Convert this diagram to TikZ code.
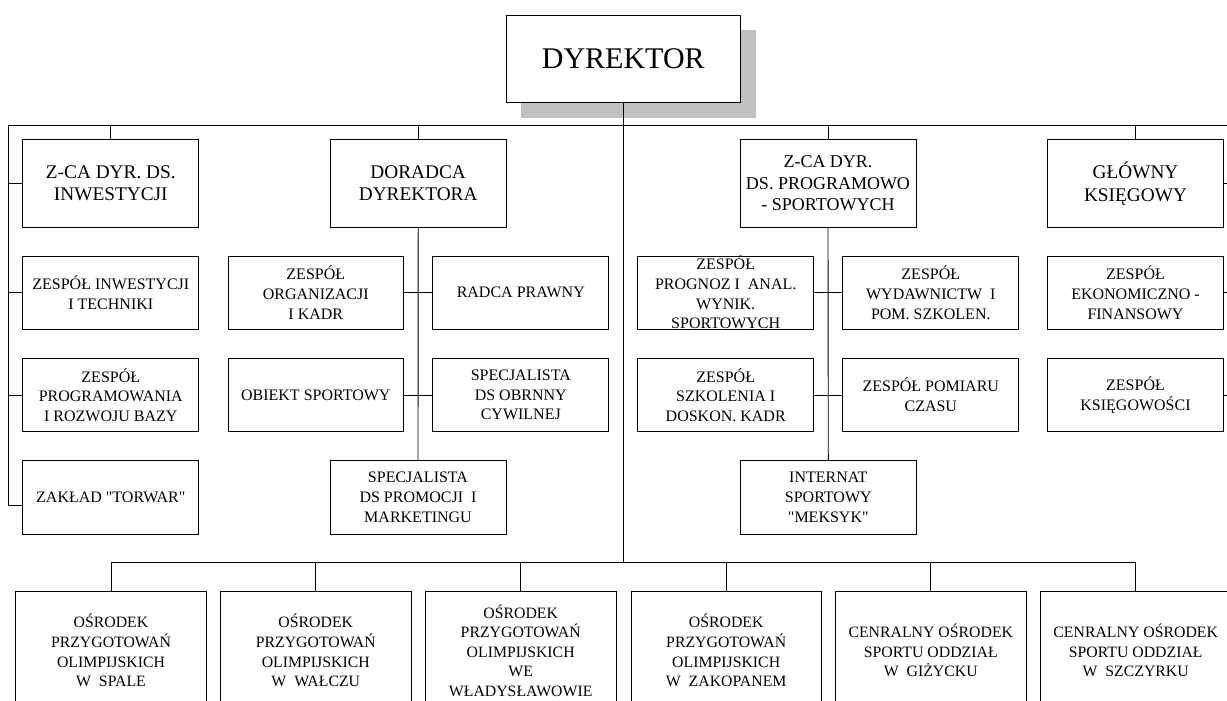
\documentclass[tikz,border=0pt]{standalone}
\usepackage{fontspec}
\setmainfont{Liberation Serif}[Ligatures=TeXOff]
\definecolor{shadowgray}{RGB}{192,192,192}
\begin{document}
\begin{tikzpicture}[x=1pt,y=-1pt,line width=0.9pt,
  box/.style={draw,fill=white,align=center,inner sep=0pt,
    minimum width=176pt,minimum height=73.3pt,
    font=\fontsize{16}{19.7}\selectfont},
  lvl/.style={box,minimum height=88pt,font=\fontsize{19.3}{22.7}\selectfont},
  dyrbox/.style={box,minimum width=234.7pt,minimum height=87.7pt,font=\fontsize{30}{34}\selectfont},
  botbox/.style={box,minimum width=190.5pt,minimum height=118pt,font=\fontsize{15.8}{19.6}\selectfont},
  conn/.style={draw,line width=0.9pt}]
\useasboundingbox (0,0) rectangle (1227,701);
\clip (0,0) rectangle (1227,701);
% shadow of director box
\path[fill=shadowgray] (521,30) rectangle (756,117.7);
\node[dyrbox] (dyr) at (623.3,58.9) {DYREKTOR};
% level 1
\node[lvl] (zinw) at (110.8,183.3) {Z-CA DYR. DS.\\INWESTYCJI};
\node[lvl] (dor) at (418.2,183.3) {DORADCA\\DYREKTORA};
\node[lvl,font=\fontsize{18}{21.7}\selectfont] (zpro) at (828,183.3) {Z-CA DYR.\\DS. PROGRAMOWO\\- SPORTOWYCH};
\node[lvl] (glk) at (1135.5,183.3) {GŁÓWNY\\KSIĘGOWY};
% row A
\node[box] (zit) at (110.8,292.7) {ZESPÓŁ INWESTYCJI\\I TECHNIKI};
\node[box,minimum width=175pt] (zok) at (315.8,292.7) {ZESPÓŁ\\ORGANIZACJI\\I KADR};
\node[box] (radca) at (520.8,292.7) {RADCA PRAWNY};
\node[box] (progn) at (725.7,292.7) {ZESPÓŁ\\PROGNOZ I~ ANAL.\\WYNIK.\\SPORTOWYCH};
\node[box] (wyd) at (930.8,292.7) {ZESPÓŁ\\WYDAWNICTW~ I\\POM. SZKOLEN.};
\node[box] (ekon) at (1135.5,292.7) {ZESPÓŁ\\EKONOMICZNO -\\FINANSOWY};
% row B
\node[box] (zprb) at (110.8,395) {ZESPÓŁ\\PROGRAMOWANIA\\I ROZWOJU BAZY};
\node[box,minimum width=175pt] (obiekt) at (315.8,395) {OBIEKT SPORTOWY};
\node[box] (obron) at (520.8,395) {SPECJALISTA\\DS OBRNNY\\CYWILNEJ};
\node[box] (szkol) at (725.7,395) {ZESPÓŁ\\SZKOLENIA I\\DOSKON. KADR};
\node[box] (pomiar) at (930.8,395) {ZESPÓŁ POMIARU\\CZASU};
\node[box] (ksieg) at (1135.5,395) {ZESPÓŁ\\KSIĘGOWOŚCI};
% row C
\node[box] (torwar) at (110.8,497.3) {ZAKŁAD "TORWAR"};
\node[box] (prom) at (418,497.3) {SPECJALISTA\\DS PROMOCJI~ I\\MARKETINGU};
\node[box] (intern) at (828.3,497.3) {INTERNAT\\SPORTOWY\\"MEKSYK"};
% bottom row
\node[botbox] (b1) at (111,650.7) {OŚRODEK\\PRZYGOTOWAŃ\\OLIMPIJSKICH\\W~ SPALE};
\node[botbox] (b2) at (315.8,650.7) {OŚRODEK\\PRZYGOTOWAŃ\\OLIMPIJSKICH\\W~ WAŁCZU};
\node[botbox] (b3) at (520.7,650.7) {OŚRODEK\\PRZYGOTOWAŃ\\OLIMPIJSKICH\\WE\\WŁADYSŁAWOWIE};
\node[botbox] (b4) at (726.2,650.7) {OŚRODEK\\PRZYGOTOWAŃ\\OLIMPIJSKICH\\W~ ZAKOPANEM};
\node[botbox] (b5) at (930.8,650.7) {CENRALNY OŚRODEK\\SPORTU ODDZIAŁ\\W~ GIŻYCKU};
\node[botbox] (b6) at (1135.7,650.7) {CENRALNY OŚRODEK\\SPORTU ODDZIAŁ\\W~ SZCZYRKU};
% bus coordinates
\coordinate (tl) at (8.3,125);
\coordinate (tr) at (1230,125);
\coordinate (bb) at (623.3,562.7);
% connectors
\draw[conn] (tl) -- (tr);
\draw[conn] (dyr.south) -- (bb);
\foreach \n in {zinw,dor,zpro,glk} \draw[conn] (\n.north |- tl) -- (\n.north);
% left bus
\draw[conn] (tl) |- ([yshift=-8.4pt]torwar.west);
\foreach \n in {zinw,zit,zprb} \draw[conn] (\n.west -| tl) -- (\n.west);
% doradca
\draw[conn] (dor.south) -- (prom.north);
\draw[conn] (zok.east) -- (radca.west);
\draw[conn] (obiekt.east) -- (obron.west);
% programowo-sportowy
\draw[conn] (zpro.south) -- (intern.north);
\draw[conn] (progn.east) -- (wyd.west);
\draw[conn] (szkol.east) -- (pomiar.west);
% right bus
\draw[conn] (tr) -- (tr |- ksieg.east);
\foreach \n in {glk,ekon,ksieg} \draw[conn] (\n.east) -- (\n.east -| tr);
% bottom bus
\draw[conn] (b1.north |- bb) -- (b6.north |- bb);
\foreach \n in {b1,b2,b3,b4,b5,b6} \draw[conn] (\n.north |- bb) -- (\n.north);
\end{tikzpicture}
\end{document}
